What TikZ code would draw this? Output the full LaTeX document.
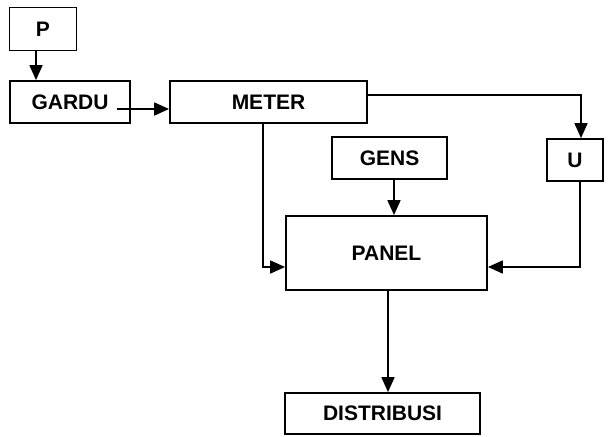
\documentclass[tikz,border=0pt]{standalone}
\usepackage{fontspec}
\setmainfont{Liberation Sans}
\usetikzlibrary{arrows.meta}
\begin{document}
\begin{tikzpicture}[x=1pt,y=-1pt,
  blk/.style={draw,line width=1.8pt,inner sep=0pt,font=\fontsize{21}{25}\selectfont\bfseries},
  arr/.style={line width=1.7pt,-{Triangle[length=15pt,width=13pt]}}]
\useasboundingbox (0,0) rectangle (609,436);
\node[blk,minimum width=67pt,minimum height=43pt] (P) at (43,29) {P};
\node[blk,minimum width=120pt,minimum height=42pt] (G) at (70,102) {GARDU};
\node[blk,minimum width=197pt,minimum height=42pt] (M) at (268.5,102) {METER};
\node[blk,minimum width=56pt,minimum height=42pt] (U) at (575,160) {U};
\node[blk,minimum width=115pt,minimum height=42pt] (GE) at (389.5,158) {GENS};
\node[blk,minimum width=201pt,minimum height=74pt] (PA) at (386.5,253) {PANEL};
\node[blk,minimum width=195pt,minimum height=41pt] (D) at (382.5,413.5) {DISTRIBUSI};
\coordinate (pg) at (36,0);
\coordinate (gm) at (117,109);
\coordinate (mu) at (581,95);
\coordinate (mp) at (263,267);
\coordinate (up) at (580,267);
\coordinate (gp) at (394,0);
\coordinate (pd) at (388,0);
\draw[arr] (P.south -| pg) -- (G.north -| pg);
\draw[arr] (gm) -- (M.west |- gm);
\draw[arr] (M.east |- mu) -- (mu) -- (U.north -| mu);
\draw[arr] (M.south -| mp) -- (mp) -- (PA.west |- mp);
\draw[arr] (U.south -| up) -- (up) -- (PA.east |- up);
\draw[arr] (GE.south -| gp) -- (PA.north -| gp);
\draw[arr] (PA.south -| pd) -- (D.north -| pd);
\end{tikzpicture}
\end{document}
